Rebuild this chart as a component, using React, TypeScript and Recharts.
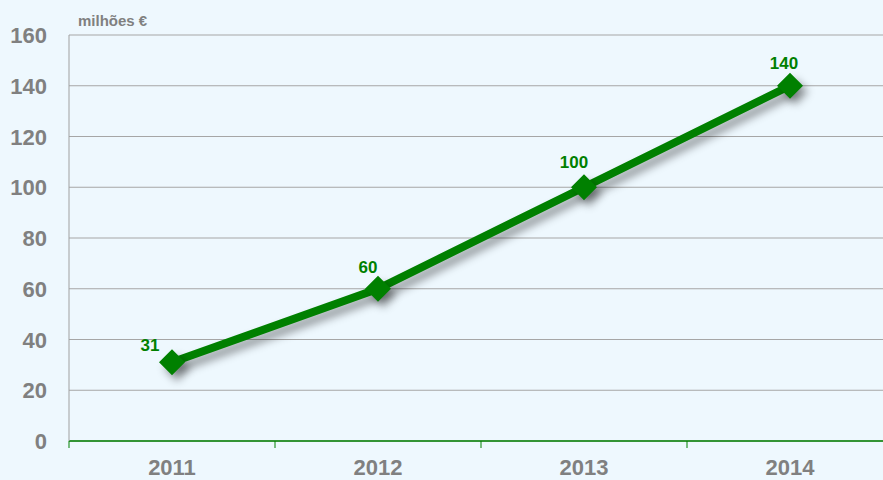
import React from 'react';
import { LineChart, Line, XAxis, YAxis, CartesianGrid, LabelList } from 'recharts';

const years = ['2011', '2012', '2013', '2014'];
const values = [31, 60, 100, 140];
const yTicks = [0, 20, 40, 60, 80, 100, 120, 140, 160];

const data = years.map((year, i) => ({ year, value: values[i] }));

const GREEN = '#008000';
const GREY = '#808080';
const FONT = '"Liberation Sans", Arial, sans-serif';

// hand-placed value labels, offset from each point
const labelNudge = [
  [-22, -11],
  [-10, -16],
  [-10, -19],
  [-6, -17],
];

const Diamond = (props: any) => {
  const { cx, cy } = props;
  if (cx == null || cy == null) return null;
  const r = 13;
  return (
    <polygon
      points={`${cx},${cy - r} ${cx + r},${cy} ${cx},${cy + r} ${cx - r},${cy}`}
      fill={GREEN}
    />
  );
};

// band edges sit half a category away from each point
const XTick = (props: any) => {
  const { x, y, payload, index } = props;
  const half = 103;
  const top = y - 8;
  return (
    <g>
      <line x1={x - half} y1={top} x2={x - half} y2={top + 7} stroke={GREEN} strokeWidth={1} />
      {index === years.length - 1 && (
        <line x1={x + half} y1={top} x2={x + half} y2={top + 7} stroke={GREEN} strokeWidth={1} />
      )}
      <text x={x} y={y + 26} textAnchor="middle" fill={GREY} fontSize={22} fontWeight="bold" fontFamily={FONT}>
        {payload.value}
      </text>
    </g>
  );
};

const YTick = (props: any) => {
  const { y, payload } = props;
  return (
    <text x={47} y={y + 8} textAnchor="end" fill={GREY} fontSize={22} fontWeight="bold" fontFamily={FONT}>
      {payload.value}
    </text>
  );
};

const ValueLabel = (props: any) => {
  const { x, y, value, index } = props;
  const [dx, dy] = labelNudge[index] || [-8, -17];
  return (
    <text x={x + dx} y={y + dy} textAnchor="middle" fill={GREEN} fontSize={17} fontWeight="bold" fontFamily={FONT}>
      {value}
    </text>
  );
};

export default function App() {
  return (
    <div style={{ position: 'fixed', left: 0, top: 0, width: 883, height: 480, overflow: 'hidden', background: '#EEF8FE' }}>
      <style>{`.recharts-line-curve, .recharts-line-dots { filter: drop-shadow(5px 6px 4px rgba(0,0,0,0.4)); }`}</style>
      <div
        style={{
          position: 'absolute',
          left: 78,
          top: 13,
          fontFamily: FONT,
          fontSize: 15,
          lineHeight: '15px',
          fontWeight: 'bold',
          color: GREY,
        }}
      >
        milhões €
      </div>
      <LineChart width={893} height={480} data={data} margin={{ top: 35, right: 0, bottom: 0, left: 0 }}>
        <CartesianGrid vertical={false} stroke="#A6A6A6" strokeWidth={1} />
        <XAxis
          dataKey="year"
          padding={{ left: 103, right: 103 }}
          axisLine={{ stroke: GREEN, strokeWidth: 1.5 }}
          tickLine={false}
          tick={<XTick />}
          interval={0}
          height={39}
        />
        <YAxis
          width={69}
          domain={[0, 160]}
          ticks={yTicks}
          axisLine={{ stroke: '#A0A0A0' }}
          tickLine={false}
          tick={<YTick />}
          interval={0}
        />
        <Line
          dataKey="value"
          stroke={GREEN}
          strokeWidth={8}
          type="linear"
          dot={<Diamond />}
          activeDot={false}
          isAnimationActive={false}
        >
          <LabelList dataKey="value" content={<ValueLabel />} />
        </Line>
      </LineChart>
    </div>
  );
}
